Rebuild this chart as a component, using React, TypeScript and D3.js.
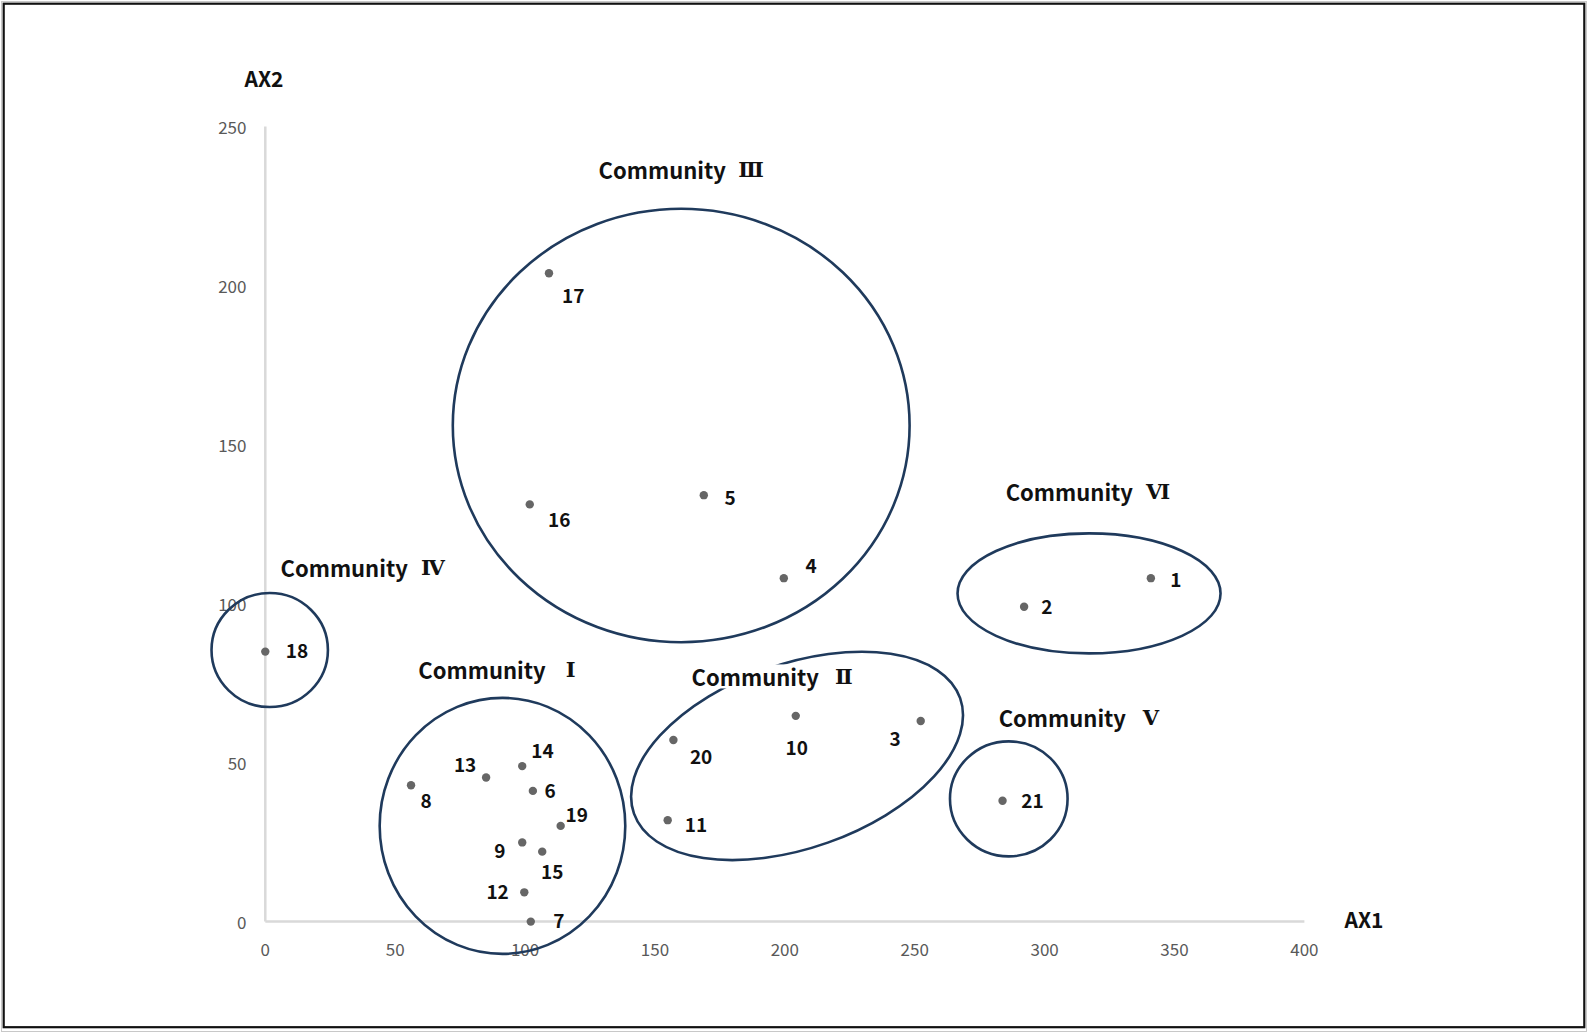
import React, { useEffect, useRef } from "react";
import * as d3 from "d3";

const W = 1588;
const H = 1033;

// Site data (AX1, AX2)
const siteIds = ["1","2","3","4","5","6","7","8","9","10","11","12","13","14","15","16","17","18","19","20","21"];
const ax1Values = [340.9, 292.1, 252.3, 199.6, 168.8, 103.0, 102.2, 56.1, 98.9, 204.2, 154.9, 99.7, 85.0, 98.9, 106.6, 101.8, 109.2, 0, 113.7, 157.1, 283.8];
const ax2Values = [108.0, 99.0, 63.1, 108.0, 134.1, 41.1, 0, 42.9, 24.9, 64.7, 31.9, 9.2, 45.3, 48.9, 22.0, 131.2, 203.9, 84.9, 30.1, 57.1, 38.0];

// label placement relative to the point (pixels)
const labelDx = [25, 22.7, -25.7, 27.3, 26.3, 17.3, 28, 15, -22.3, 1, 28.3, -26.7, -21, 20.3, 10, 29.4, 24.3, 31.7, 16, 27.7, 30];
const labelDy = [0, -1.7, 16.7, -13.2, 1, -1, -1.7, 14, 6.7, 31, 3.3, -2.3, -14.3, -16.7, 19, 14.2, 21.7, -2.3, -12, 15, -1.7];

const xTicks = [0, 50, 100, 150, 200, 250, 300, 350, 400];
const yTicks = [0, 50, 100, 150, 200, 250];

// Communities: centre in data units
const communityWord = "Community";
const communityNumerals = ["Ⅰ", "Ⅱ", "Ⅲ", "Ⅳ", "Ⅴ", "Ⅵ"];
const communityCx = [91.3, 204.7, 160.1, 1.7, 286.2, 317.1];
const communityCy = [30.1, 52.1, 156.0, 85.4, 38.6, 103.2];
// ellipse radii (px) and rotation
const communityRx = [122.8, 173, 228.4, 58.2, 58.8, 131.5];
const communityRy = [128, 92, 216.7, 57, 57.5, 60];
const communityAngle = [0, -19.5, 0, 0, 0, 0];
// label left edge / vertical centre in data units
const communityLabelX = [58.9, 164.1, 128.3, 5.85, 282.3, 285.0];
const communityLabelY = [79.3, 77.1, 236.6, 111.5, 64.3, 135.3];

export default function App() {
  const ref = useRef<SVGSVGElement>(null);

  useEffect(() => {
    const svg = d3.select(ref.current);
    svg.selectAll("*").remove();

    const x = d3.scaleLinear().domain([0, 400]).range([265.3, 1304.4]);
    const y = d3.scaleLinear().domain([0, 250]).range([921.6, 126.6]);

    svg.append("rect").attr("x", 0).attr("y", 0).attr("width", W).attr("height", H).attr("fill", "#fff");
    svg.append("rect").attr("x", 1.5).attr("y", 1.5).attr("width", W - 3).attr("height", H - 3)
      .attr("fill", "none").attr("stroke", "#c8c8c8").attr("stroke-width", 1);
    svg.append("rect").attr("x", 3.7).attr("y", 3.7).attr("width", 1580.6).attr("height", 1023.5)
      .attr("fill", "none").attr("stroke", "#111").attr("stroke-width", 2.2);

    // axes lines
    svg.append("line").attr("x1", x(0)).attr("x2", x(400)).attr("y1", y(0)).attr("y2", y(0))
      .attr("stroke", "#d9d9d9").attr("stroke-width", 2.5);
    svg.append("line").attr("x1", x(0)).attr("x2", x(0)).attr("y1", y(0)).attr("y2", y(250))
      .attr("stroke", "#d9d9d9").attr("stroke-width", 2.5);

    const font = "'Noto Sans CJK KR', 'Noto Sans', sans-serif";
    svg.append("g").selectAll("text").data(xTicks).join("text")
      .attr("x", d => x(d)).attr("y", 948).attr("text-anchor", "middle").attr("dominant-baseline", "central")
      .attr("font-family", font).attr("font-size", 17).attr("fill", "#595959").text(d => String(d));
    svg.append("g").selectAll("text").data(yTicks).join("text")
      .attr("x", 246.5).attr("y", d => y(d)).attr("text-anchor", "end").attr("dominant-baseline", "central")
      .attr("font-family", font).attr("font-size", 17).attr("fill", "#595959").text(d => String(d));

    // axis titles
    svg.append("text").attr("x", 264).attr("y", 77.5).attr("text-anchor", "middle").attr("dominant-baseline", "central")
      .attr("font-family", font).attr("font-weight", 700).attr("font-size", 21).attr("fill", "#111").text("AX2");
    svg.append("text").attr("x", 1364).attr("y", 918.5).attr("text-anchor", "middle").attr("dominant-baseline", "central")
      .attr("font-family", font).attr("font-weight", 700).attr("font-size", 21).attr("fill", "#111").text("AX1");

    // ellipses
    const comms = communityNumerals.map((n, i) => ({
      num: n, cx: communityCx[i], cy: communityCy[i], rx: communityRx[i], ry: communityRy[i],
      a: communityAngle[i], lx: communityLabelX[i], ly: communityLabelY[i],
    }));
    svg.append("g").selectAll("ellipse").data(comms).join("ellipse")
      .attr("cx", 0).attr("cy", 0).attr("rx", d => d.rx).attr("ry", d => d.ry)
      .attr("transform", d => `translate(${x(d.cx)},${y(d.cy)}) rotate(${d.a})`)
      .attr("fill", "none").attr("stroke", "#1f3a5c").attr("stroke-width", 2.6);

    // community labels with white background
    const lg = svg.append("g");
    comms.forEach(d => {
      const g = lg.append("g");
      const bg = g.append("rect").attr("fill", "#fff");
      const x0 = x(d.lx);
      const yc = y(d.ly);
      const t = g.append("text").attr("x", x0).attr("y", yc)
        .attr("text-anchor", "start").attr("dominant-baseline", "central")
        .attr("font-family", font).attr("font-weight", 700).attr("font-size", 22)
        .attr("fill", "#111").text(communityWord);
      const wlen = (t.node() as SVGTextElement).getComputedTextLength();
      g.append("text").attr("x", x0 + wlen + 25).attr("y", yc)
        .attr("text-anchor", "middle").attr("dominant-baseline", "central")
        .attr("font-family", "'DejaVu Serif', serif").attr("font-weight", 700).attr("font-size", 21)
        .attr("fill", "#111").text(d.num);
      const bb = (g.node() as SVGGElement).getBBox();
      bg.attr("x", x0 - 3).attr("y", yc - 12).attr("width", wlen + 25 + 18).attr("height", 24);
      void bb;
    });

    // points
    const pts = siteIds.map((id, i) => ({ id, x: ax1Values[i], y: ax2Values[i], dx: labelDx[i], dy: labelDy[i] }));
    svg.append("g").selectAll("circle").data(pts).join("circle")
      .attr("cx", d => x(d.x)).attr("cy", d => y(d.y)).attr("r", 4.2).attr("fill", "#666");
    svg.append("g").selectAll("text").data(pts).join("text")
      .attr("x", d => x(d.x) + d.dx).attr("y", d => y(d.y) + d.dy)
      .attr("text-anchor", "middle").attr("dominant-baseline", "central")
      .attr("font-family", font).attr("font-weight", 700).attr("font-size", 19)
      .attr("fill", "#111").text(d => d.id);
  }, []);

  return (
    <svg ref={ref} width={W} height={H} style={{ position: "absolute", left: 0, top: 0, display: "block" }} />
  );
}
